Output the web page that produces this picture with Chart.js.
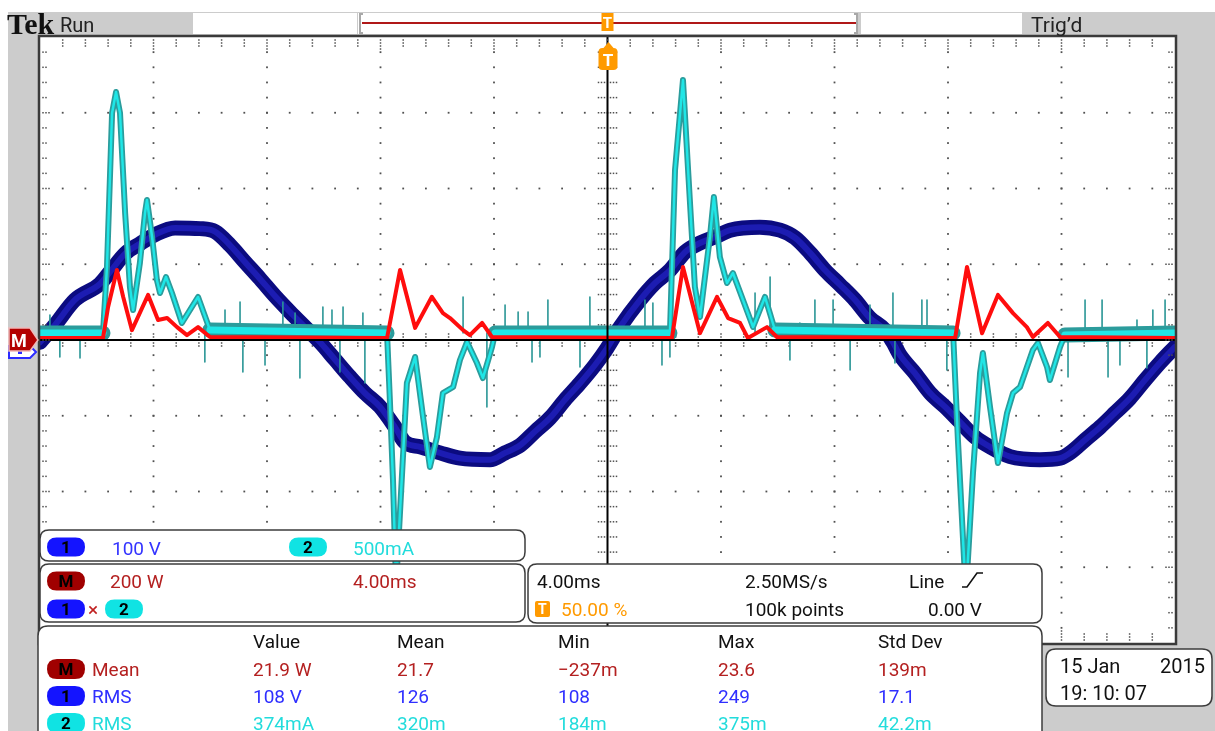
<!DOCTYPE html>
<html>
<head>
<meta charset="utf-8">
<title>Tek Run - CH1/CH2/Math</title>
<script src="https://cdn.jsdelivr.net/npm/chart.js@4.4.1/dist/chart.umd.min.js"></script>
<style>
  html, body { margin: 0; padding: 0; background: #fff; }
  #wrap { position: relative; width: 1215px; height: 731px; }
</style>
</head>
<body>
<div id="wrap"><canvas id="scope" width="1215" height="731"></canvas></div>
<script>
// ---- channel 1: line voltage (V) vs time (ms) ----
const timeV = [0, 0.53, 1.23, 2.11, 2.47, 3.00, 3.52, 4.05, 4.76, 5.64, 6.17, 6.70, 7.22, 7.75, 8.28, 8.81, 9.34, 9.87,
  10.40, 10.93, 11.45, 11.98, 12.51, 12.86, 13.39, 14.10, 14.80, 15.86, 16.39, 16.92, 17.44, 17.97, 18.50, 19.03, 19.56, 19.98,
  20.44, 21.15, 21.67, 22.20, 22.73, 23.26, 23.79, 24.32, 25.37, 26.08, 26.61, 27.14, 27.67, 28.19, 28.72, 29.25, 29.78, 30.06,
  30.31, 30.84, 31.37, 31.89, 32.42, 32.95, 33.48, 34.19, 35.24, 35.95, 36.30, 36.83, 37.36, 37.89, 38.41, 38.94, 39.47, 40.00];
const voltV = [-3, 20, 53, 74, 90, 114, 127, 139, 148, 147, 143, 125, 103, 81, 58, 37, 17, -3,
  -26, -49, -70, -88, -115, -135, -141, -149, -156, -158, -149, -139, -121, -103, -79, -57, -33, -11,
  17, 53, 75, 92, 116, 128, 136, 145, 149, 145, 135, 115, 92, 73, 53, 29, 13, -3,
  -20, -44, -70, -88, -108, -128, -141, -154, -158, -156, -149, -132, -115, -96, -77, -53, -30, -9];

// ---- channel 2: line current (mA) vs time (ms) ----
const timeI = [0, 2.22, 2.36, 2.54, 2.68, 2.82, 3.00, 3.17, 3.28, 3.52, 3.70, 3.77, 3.95, 4.12, 4.23, 4.44, 4.65, 5.00, 5.57, 5.99,
  12.23, 12.33, 12.44, 12.55, 12.93, 13.22, 13.50, 13.74, 13.99, 14.20, 14.56, 14.80, 15.05, 15.40, 15.61, 15.93, 16.04,
  22.20, 22.38, 22.66, 22.84, 23.08, 23.26, 23.61, 23.75, 23.96, 24.21, 24.42, 25.13, 25.55, 25.90,
  32.18, 32.35, 32.63, 32.88, 33.13, 33.23, 33.48, 33.76, 34.08, 34.29, 34.54, 34.99, 35.17, 35.49, 35.59, 35.95, 36.12, 40];
const currentI = [46, 46, 482, 1498, 1637, 1498, 838, 350, 198, 508, 838, 924, 680, 396, 310, 416, 310, 112, 284, 66,
  46, -396, -924, -1620, -284, -112, -508, -838, -640, -350, -310, -132, -13, -152, -251, -46, 46,
  46, 1122, 1716, 1122, 350, 152, 680, 944, 548, 376, 442, 86, 284, 66,
  46, -660, -1680, -878, -218, -86, -442, -812, -482, -350, -310, -66, -20, -178, -264, -46, 33, 46];

// short glitches riding on the current baseline (time ms, tip mA)
const currentBaseline = 46;
const glitchTimes = [0.35, 0.70, 1.41, 5.81, 6.52, 7.05, 7.15, 7.93, 8.56, 8.99, 9.16, 9.97, 10.29, 10.57, 10.68, 11.38, 11.45,
  14.91, 15.75, 16.39, 16.85, 17.20, 17.34, 17.62, 17.90, 19.03, 19.38, 21.32, 21.60, 21.92, 22.20, 25.20, 25.73,
  26.43, 26.78, 27.31, 27.95, 28.55, 29.25, 30.06, 30.13, 31.08, 31.26, 31.96, 36.23, 36.83, 37.43, 37.64, 38.06,
  38.66, 39.01, 39.22, 39.65];
const glitchTips = [165, -112, -119, -145, 198, 251, -211, -165, 251, 178, -251, 218, 198, -211, 218, 178, -284,
  284, -442, 231, 185, 185, -145, -112, 264, -178, 284, 264, 244, -165, -112, 310, 416,
  -132, 112, 264, 264, -198, 231, 310, -152, 264, 264, -198, -244, 264, 264, -244, -165,
  132, -185, 198, 264];

// ---- math M = CH1 x CH2: power (W) vs time (ms) ----
const timeP = [0, 2.22, 2.40, 2.71, 2.93, 3.24, 3.81, 4.16, 4.48, 4.83, 5.18, 5.57, 5.99,
  12.23, 12.69, 13.22, 13.81, 14.20, 14.45, 14.91, 15.15, 15.58, 15.93,
  22.27, 22.66, 23.26, 23.86, 24.25, 24.67, 24.95, 25.62, 25.97,
  32.25, 32.67, 33.20, 33.76, 34.29, 34.78, 34.99, 35.52, 35.95, 40];
const powerP = [5, 5, 87, 185, 114, 26, 119, 53, 58, 34, 13, 34, 8,
  5, 185, 32, 114, 71, 58, 26, 13, 45, 8,
  5, 193, 18, 114, 58, 45, 5, 34, 8,
  5, 193, 18, 119, 71, 34, 8, 45, 8, 5];

// vertical scale settings
const VOLTS_PER_DIV = 100;
const MILLIAMPS_PER_DIV = 500;
const WATTS_PER_DIV = 200;

// readout table
const measColumns = ['Value', 'Mean', 'Min', 'Max', 'Std Dev'];
const measSources = ['M', '1', '2'];
const measTypes = ['Mean', 'RMS', 'RMS'];
const measMath = ['21.9 W', '21.7', '\u2212237m', '23.6', '139m'];
const measCh1 = ['108 V', '126', '108', '249', '17.1'];
const measCh2 = ['374mA', '320m', '184m', '375m', '42.2m'];

const FONT = 'Roboto, "DejaVu Sans", sans-serif';
const ORANGE = '#ff9a00';
const CH1_COLOR = '#1414ff';
const CH2_COLOR = '#10e3e3';
const MATH_COLOR = '#a00000';

function toDiv(ts, vals, perDiv) {
  return ts.map((t, i) => ({ x: t, y: vals[i] / perDiv }));
}

function glitchPoints(ts, tips, base, perDiv) {
  const pts = [];
  ts.forEach((t, i) => {
    pts.push({ x: t, y: base / perDiv }, { x: t, y: tips[i] / perDiv }, { x: t, y: null });
  });
  return pts;
}

// the idle current trace is a wider noisy band than the pulses
function onBaseline(c) {
  const b = currentBaseline / MILLIAMPS_PER_DIV;
  return Math.abs(c.p0.parsed.y - b) < 0.15 && Math.abs(c.p1.parsed.y - b) < 0.15;
}

function boxPath(ctx, x, y, w, h, r) {
  ctx.beginPath();
  ctx.moveTo(x + r, y);
  ctx.lineTo(x + w - r, y);
  ctx.quadraticCurveTo(x + w, y, x + w, y + r);
  ctx.lineTo(x + w, y + h - r);
  ctx.quadraticCurveTo(x + w, y + h, x + w - r, y + h);
  ctx.lineTo(x + r, y + h);
  ctx.quadraticCurveTo(x, y + h, x, y + h - r);
  ctx.lineTo(x, y + r);
  ctx.quadraticCurveTo(x, y, x + r, y);
  ctx.closePath();
}

function panel(ctx, x, y, w, h, r) {
  boxPath(ctx, x, y, w, h, r);
  ctx.fillStyle = '#fff';
  ctx.fill();
  ctx.lineWidth = 1.5;
  ctx.strokeStyle = '#3c3c3c';
  ctx.stroke();
}

function pill(ctx, cx, cy, w, h, fill, label) {
  boxPath(ctx, cx - w / 2, cy - h / 2, w, h, h / 2);
  ctx.fillStyle = fill;
  ctx.fill();
  ctx.fillStyle = '#000';
  ctx.font = 'bold 17px ' + FONT;
  ctx.textAlign = 'center';
  ctx.fillText(label, cx, cy + 6);
  ctx.textAlign = 'left';
}

function txt(ctx, s, x, y, color, size) {
  ctx.font = (size || 19) + 'px ' + FONT;
  ctx.fillStyle = color;
  ctx.textAlign = 'left';
  ctx.fillText(s, x, y);
}

function dot(ctx, x, y, s) {
  ctx.fillRect(x - s / 2, y - s / 2, s, s);
}

// screen frame, graticule, markers and readouts
const scopeScreen = {
  id: 'scopeScreen',
  beforeDraw(chart) {
    const { ctx, chartArea: a, width, height } = chart;
    ctx.save();
    ctx.fillStyle = '#fff';
    ctx.fillRect(0, 0, width, height);
    ctx.fillStyle = '#cccccc';
    ctx.fillRect(8, 12, width - 8, height - 12);
    ctx.fillStyle = '#fff';
    ctx.fillRect(a.left, a.top, a.right - a.left, a.bottom - a.top);
    ctx.restore();
  },
  beforeDatasetsDraw(chart) {
    const { ctx, scales: { x, y } } = chart;
    ctx.save();
    ctx.fillStyle = '#505050';
    // major division lines made of dots
    for (let k = 1; k < 10; k++) {
      if (k === 5) continue;
      const px = x.getPixelForValue(k * 4);
      for (let m = 1; m < 40; m++) dot(ctx, px, y.getPixelForValue(-4 + m * 0.2), 1.8);
    }
    for (let j = -3; j <= 3; j++) {
      if (j === 0) continue;
      const py = y.getPixelForValue(j);
      for (let m = 1; m < 50; m++) dot(ctx, x.getPixelForValue(m * 0.8), py, 1.8);
    }
    // tick marks on the centre cross
    const cx = x.getPixelForValue(20), cy = y.getPixelForValue(0);
    for (let m = 1; m < 40; m++) {
      const py = y.getPixelForValue(-4 + m * 0.2);
      [-9, -6, -3, 3, 6, 9].forEach(o => dot(ctx, cx + o, py, 1.5));
    }
    for (let m = 1; m < 50; m++) {
      const px = x.getPixelForValue(m * 0.8);
      [-6, -3, 3, 6].forEach(o => dot(ctx, px, cy + o, 1.5));
    }
    ctx.restore();
  },
  afterDatasetsDraw(chart) {
    const { ctx, chartArea: a, scales: { x, y } } = chart;
    ctx.save();
    ctx.strokeStyle = '#000';
    ctx.lineWidth = 2;
    const cx = x.getPixelForValue(20), cy = y.getPixelForValue(0);
    ctx.beginPath();
    ctx.moveTo(a.left, cy); ctx.lineTo(a.right, cy);
    ctx.moveTo(cx, a.top); ctx.lineTo(cx, a.bottom);
    ctx.stroke();
    // border ticks
    ctx.fillStyle = '#505050';
    for (let m = 1; m < 50; m++) {
      const px = x.getPixelForValue(m * 0.8);
      const n = m % 5 === 0 ? 4 : 3;
      for (let d = 1; d <= n; d++) {
        dot(ctx, px, a.top + d * 3, 1.5);
        dot(ctx, px, a.bottom - d * 3, 1.5);
      }
    }
    for (let m = 1; m < 40; m++) {
      const py = y.getPixelForValue(-4 + m * 0.2);
      const n = m % 5 === 0 ? 3 : 2;
      for (let d = 1; d <= n; d++) {
        dot(ctx, a.left + d * 3, py, 1.5);
        dot(ctx, a.right - d * 3, py, 1.5);
      }
    }
    ctx.lineWidth = 2.5;
    ctx.strokeStyle = '#3a3a3a';
    ctx.strokeRect(a.left - 1, a.top - 1, a.right - a.left + 2, a.bottom - a.top + 2);
    ctx.restore();
  },
  afterDraw(chart) {
    const { ctx, scales: { x, y } } = chart;
    ctx.save();

    // --- top status bar ---
    ctx.fillStyle = '#fff';
    ctx.fillRect(193, 13, 164, 21);
    ctx.fillRect(358, 13, 500, 21);
    ctx.fillRect(861, 13, 161, 21);
    ctx.strokeStyle = '#a8a8a8';
    ctx.lineWidth = 2;
    ctx.beginPath();
    ctx.moveTo(363, 14); ctx.lineTo(360, 14); ctx.lineTo(360, 33); ctx.lineTo(363, 33);
    ctx.moveTo(854, 14); ctx.lineTo(857, 14); ctx.lineTo(857, 33); ctx.lineTo(854, 33);
    ctx.stroke();
    ctx.strokeStyle = '#b01818';
    ctx.lineWidth = 2;
    ctx.beginPath();
    ctx.moveTo(362, 23); ctx.lineTo(856, 23);
    ctx.stroke();

    ctx.fillStyle = '#111';
    ctx.font = 'bold 30px "Liberation Serif", "DejaVu Serif", serif';
    ctx.fillText('Tek', 7, 34);
    txt(ctx, 'Run', 60, 32, '#222', 20);
    txt(ctx, 'Trig\u2019d', 1031, 32, '#222', 21);

    // trigger position markers
    const tx = x.getPixelForValue(20);
    ctx.fillStyle = ORANGE;
    ctx.fillRect(tx - 6, 13, 12, 18);
    boxPath(ctx, tx - 9, 48, 19, 22, 4);
    ctx.fill();
    ctx.beginPath();
    ctx.moveTo(tx - 4, 48); ctx.lineTo(tx + 1, 42); ctx.lineTo(tx + 6, 48);
    ctx.fill();
    ctx.fillStyle = '#fff';
    ctx.font = 'bold 15px ' + FONT;
    ctx.textAlign = 'center';
    ctx.fillText('T', tx, 28);
    ctx.font = 'bold 17px ' + FONT;
    ctx.fillText('T', tx + 0.5, 66);
    ctx.textAlign = 'left';

    // ground reference markers on the left
    const gy = y.getPixelForValue(0);
    ctx.beginPath();
    ctx.moveTo(9, gy + 6); ctx.lineTo(30, gy + 6); ctx.lineTo(36, gy + 12); ctx.lineTo(30, gy + 18); ctx.lineTo(9, gy + 18);
    ctx.closePath();
    ctx.fillStyle = '#fff'; ctx.fill();
    ctx.strokeStyle = '#2b2bff'; ctx.lineWidth = 2; ctx.stroke();
    ctx.fillStyle = '#2b2bff';
    ctx.fillRect(18, gy + 11, 4, 3);
    ctx.beginPath();
    ctx.moveTo(9, gy - 12); ctx.lineTo(30, gy - 12); ctx.lineTo(38, gy); ctx.lineTo(30, gy + 11); ctx.lineTo(9, gy + 11);
    ctx.closePath();
    ctx.fillStyle = '#b30000'; ctx.fill();
    ctx.strokeStyle = '#f0b8b8'; ctx.lineWidth = 1.5; ctx.stroke();
    ctx.fillStyle = '#fff';
    ctx.font = 'bold 18px ' + FONT;
    ctx.fillText('M', 11, gy + 7);

    // --- channel scale panel ---
    panel(ctx, 40, 530, 485, 31, 9);
    pill(ctx, 66, 547, 38, 19, CH1_COLOR, '1');
    txt(ctx, '100 V', 112, 555, '#3434ff');
    pill(ctx, 308, 547, 38, 19, CH2_COLOR, '2');
    txt(ctx, '500mA', 353, 555, '#22dcdc');

    // --- math panel ---
    panel(ctx, 40, 564, 485, 58, 9);
    pill(ctx, 66, 581, 38, 19, MATH_COLOR, 'M');
    txt(ctx, '200 W', 110, 588, '#b42020');
    txt(ctx, '4.00ms', 353, 588, '#b42020');
    pill(ctx, 66, 609, 38, 19, CH1_COLOR, '1');
    txt(ctx, '\u00d7', 88, 616, '#c02020');
    pill(ctx, 124, 609, 38, 19, CH2_COLOR, '2');

    // --- timebase / trigger panel ---
    panel(ctx, 528, 564, 514, 59, 9);
    txt(ctx, '4.00ms', 537, 588, '#111');
    txt(ctx, '2.50MS/s', 745, 588, '#111');
    txt(ctx, 'Line', 909, 588, '#111');
    ctx.strokeStyle = '#111';
    ctx.lineWidth = 1.6;
    ctx.beginPath();
    ctx.moveTo(962, 587); ctx.lineTo(967, 587); ctx.lineTo(977, 573); ctx.lineTo(983, 573);
    ctx.stroke();
    ctx.fillStyle = ORANGE;
    boxPath(ctx, 535, 601, 15, 16, 2);
    ctx.fill();
    ctx.fillStyle = '#fff';
    ctx.font = 'bold 14px ' + FONT;
    ctx.fillText('T', 538, 614);
    txt(ctx, '50.00 %', 561, 616, ORANGE);
    txt(ctx, '100k points', 745, 616, '#111');
    txt(ctx, '0.00 V', 928, 616, '#111');

    // --- measurement readout ---
    panel(ctx, 38, 626, 1004, 130, 10);
    const colX = [253, 397, 558, 718, 878];
    measColumns.forEach((c, i) => txt(ctx, c, colX[i], 648, '#111'));
    const rows = [measMath, measCh1, measCh2];
    const rowColors = ['#b42020', '#2f2fff', '#22dcdc'];
    const pillColors = [MATH_COLOR, CH1_COLOR, CH2_COLOR];
    rows.forEach((vals, r) => {
      const by = 676 + r * 27;
      pill(ctx, 66, by - 7, 38, 20, pillColors[r], measSources[r]);
      txt(ctx, measTypes[r], 92, by, rowColors[r]);
      vals.forEach((v, i) => txt(ctx, v, colX[i], by, rowColors[r]));
    });

    // --- date / time ---
    panel(ctx, 1046, 649, 166, 57, 10);
    txt(ctx, '15 Jan', 1060, 673, '#111', 20);
    txt(ctx, '2015', 1160, 673, '#111', 20);
    txt(ctx, '19: 10: 07', 1060, 700, '#111', 20);

    ctx.restore();
  }
};

const ctx = document.getElementById('scope').getContext('2d');

new Chart(ctx, {
  type: 'line',
  data: {
    datasets: [
      {
        label: 'M',
        data: toDiv(timeP, powerP, WATTS_PER_DIV),
        borderColor: '#ff0d0d',
        borderWidth: 4,
        tension: 0,
        order: 1
      },
      {
        label: '2',
        data: toDiv(timeI, currentI, MILLIAMPS_PER_DIV),
        borderColor: '#1fe6e6',
        borderWidth: 2.5,
        tension: 0,
        segment: { borderWidth: c => (onBaseline(c) ? 7 : 2.5) },
        order: 2
      },
      {
        label: '2 envelope',
        data: toDiv(timeI, currentI, MILLIAMPS_PER_DIV),
        borderColor: '#2b9c9c',
        borderWidth: 6,
        tension: 0,
        segment: { borderWidth: c => (onBaseline(c) ? 15 : 6) },
        order: 3
      },
      {
        label: '2 glitches',
        data: glitchPoints(glitchTimes, glitchTips, currentBaseline, MILLIAMPS_PER_DIV),
        borderColor: '#2a9696',
        borderWidth: 1.6,
        spanGaps: false,
        order: 4
      },
      {
        label: '1',
        data: toDiv(timeV, voltV, VOLTS_PER_DIV),
        borderColor: '#1c1cb2',
        borderWidth: 6,
        cubicInterpolationMode: 'monotone',
        clip: 0,
        order: 5
      },
      {
        label: '1 envelope',
        data: toDiv(timeV, voltV, VOLTS_PER_DIV),
        borderColor: '#0b0b80',
        borderWidth: 15,
        cubicInterpolationMode: 'monotone',
        clip: 0,
        order: 6
      }
    ]
  },
  options: {
    responsive: false,
    animation: false,
    events: [],
    layout: { padding: { left: 40, top: 37, right: 40, bottom: 88 } },
    scales: {
      x: { type: 'linear', min: 0, max: 40, display: false },
      y: { type: 'linear', min: -4, max: 4, display: false }
    },
    elements: {
      point: { radius: 0 },
      line: { borderJoinStyle: 'round', borderCapStyle: 'round' }
    },
    plugins: {
      legend: { display: false },
      tooltip: { enabled: false }
    }
  },
  plugins: [scopeScreen]
});
</script>
</body>
</html>
